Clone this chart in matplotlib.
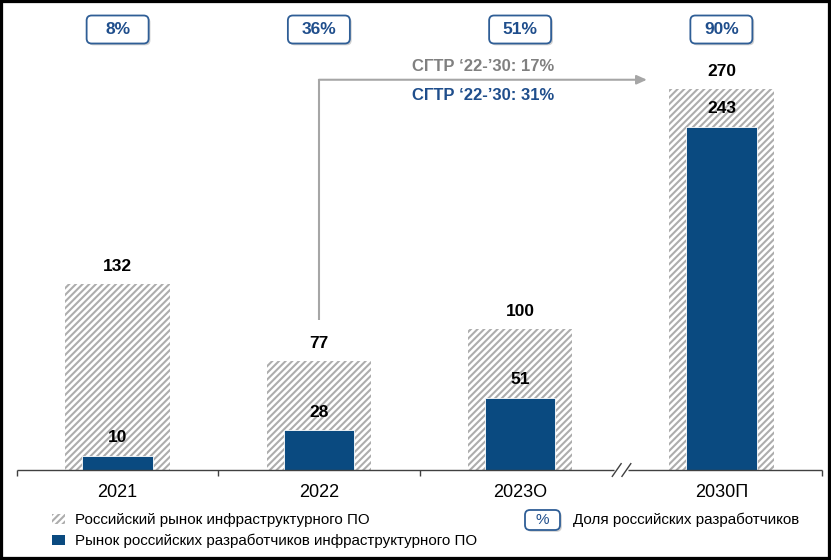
import matplotlib
matplotlib.use('Agg')
import matplotlib.pyplot as plt
from matplotlib.patches import FancyBboxPatch, Rectangle
import numpy as np

# ---- data ----
categories = ['2021', '2022', '2023О', '2030П']
total_market = [132, 77, 100, 270]
russian_devs = [10, 28, 51, 243]
share_labels = ['8%', '36%', '51%', '90%']
cagr_total = 'СГТР ‘22-’30: 17%'
cagr_russian = 'СГТР ‘22-’30: 31%'
legend_total = 'Российский рынок инфраструктурного ПО'
legend_russian = 'Рынок российских разработчиков инфраструктурного ПО'
legend_share = 'Доля российских разработчиков'

plt.rcParams['font.family'] = ['Liberation Sans', 'DejaVu Sans']
plt.rcParams['hatch.linewidth'] = 1.5

BLUE = '#0A4A80'
TXT_BLUE = '#1F4E8C'
BOX_EDGE = '#2F5E96'
HATCH_GRAY = '#ADADAD'
GRAY_TXT = '#808080'
ARROW_GRAY = '#A6A6A6'
AXIS = '#404040'
HATCH = '/////'

W, H = 831, 560
fig = plt.figure(figsize=(W / 100, H / 100), dpi=100)
ax = fig.add_axes([17 / W, 90 / H, 805 / W, 470 / H])
x = np.arange(len(categories))

ax.bar(x, total_market, width=0.52, color='white', hatch=HATCH,
       edgecolor=HATCH_GRAY, linewidth=0)
ax.bar(x, russian_devs, width=0.35, color=BLUE, edgecolor='white', linewidth=0.6)
ax.set_xlim(-0.5, len(categories) - 0.5)
ax.set_ylim(0, 333)
ax.axis('off')

# value labels
for i, v in enumerate(total_market):
    ax.annotate(str(v), (i, v), xytext=(0, 12.5), textcoords='offset points',
                ha='center', va='center', fontsize=12.5, fontweight='bold', color='black')
for i, v in enumerate(russian_devs):
    ax.annotate(str(v), (i, v), xytext=(0, 13), textcoords='offset points',
                ha='center', va='center', fontsize=12.5, fontweight='bold', color='black')

# category labels
for i, c in enumerate(categories):
    ax.annotate(c, (i, 0), xytext=(0, -16.5), textcoords='offset points',
                ha='center', va='center', fontsize=13, color='black')

# axis line with break
brk = 2.5
gap = 0.035
ax.plot([-0.5, brk - gap], [0, 0], color=AXIS, lw=1.0, clip_on=False, solid_capstyle='butt')
ax.plot([brk + gap, len(categories) - 0.5], [0, 0], color=AXIS, lw=1.0, clip_on=False,
        solid_capstyle='butt')
tick_x = [-0.5, 0.5, 1.5, len(categories) - 0.5]
ax.plot(tick_x, [0] * len(tick_x), ls='none', marker=3, ms=4, mew=1.0, color=AXIS, clip_on=False)
for dx in (-0.02, 0.028):
    ax.plot([brk + dx - 0.022, brk + dx + 0.022], [-4.5, 4.5], color=AXIS, lw=1.0, clip_on=False)

# CAGR arrow
y_start = total_market[1] + 29
y_arrow = 276.5
x_end = len(categories) - 1 - 0.37
ax.plot([1, 1], [y_start, y_arrow], color=ARROW_GRAY, lw=1.5, solid_capstyle='butt')
ax.annotate('', xy=(x_end, y_arrow), xytext=(1, y_arrow),
            arrowprops=dict(arrowstyle='-|>,head_length=0.6,head_width=0.27',
                            color=ARROW_GRAY, lw=1.5, shrinkA=0, shrinkB=0))
xm = (1 + x_end) / 2
ax.annotate(cagr_total, (xm, y_arrow), xytext=(0, 9.5), textcoords='offset points',
            ha='center', va='center', fontsize=12, fontweight='bold', color=GRAY_TXT)
ax.annotate(cagr_russian, (xm, y_arrow), xytext=(0, -11.5), textcoords='offset points',
            ha='center', va='center', fontsize=12, fontweight='bold', color=TXT_BLUE)

# share boxes at the top
tr = fig.dpi_scale_trans


def pct_box(cx_in, cy_in, w_in, h_in, label, fs, bold=True):
    shadow = FancyBboxPatch((cx_in - w_in / 2 + 0.018, cy_in - h_in / 2 - 0.018), w_in, h_in,
                            boxstyle='round,pad=0,rounding_size=0.05', transform=tr,
                            facecolor='#D0D0D0', edgecolor='none', zorder=4)
    box = FancyBboxPatch((cx_in - w_in / 2, cy_in - h_in / 2), w_in, h_in,
                         boxstyle='round,pad=0,rounding_size=0.05', transform=tr,
                         facecolor='white', edgecolor=BOX_EDGE, lw=1.3, zorder=5)
    fig.patches.extend([shadow, box])
    fig.text(cx_in, cy_in, label, transform=tr, ha='center', va='center', fontsize=fs,
             fontweight='bold' if bold else 'normal', color=TXT_BLUE, zorder=6)


for i, lab in enumerate(share_labels):
    cx = ax.transData.transform((i, 0))[0] / fig.dpi
    pct_box(cx, (H - 29.5) / 100, 0.62, 0.28, lab, 12.5)

# legend
def px(xp, yp):
    return xp / 100, (H - yp) / 100

lx, ly = px(52, 524)
fig.patches.append(Rectangle((lx, ly), 0.13, 0.10, transform=tr, facecolor='white',
                             hatch=HATCH, edgecolor=HATCH_GRAY, lw=0))
lx, ly = px(52, 545)
fig.patches.append(Rectangle((lx, ly), 0.13, 0.10, transform=tr, facecolor=BLUE,
                             edgecolor='none'))
tx, ty = px(75, 520)
fig.text(tx, ty, legend_total, transform=tr, ha='left', va='center', fontsize=10.9)
tx, ty = px(75, 541)
fig.text(tx, ty, legend_russian, transform=tr, ha='left', va='center', fontsize=10.9)
cx, cy = px(542.5, 520)
pct_box(cx, cy, 0.35, 0.20, '%', 11, bold=False)
tx, ty = px(573, 520)
fig.text(tx, ty, legend_share, transform=tr, ha='left', va='center', fontsize=10.9)

# outer black frame
fig.patches.append(Rectangle((0, 0), 1, 1, transform=fig.transFigure, fill=False,
                             edgecolor='black', lw=4.5, zorder=10))

fig.savefig('out.png', dpi=100)
